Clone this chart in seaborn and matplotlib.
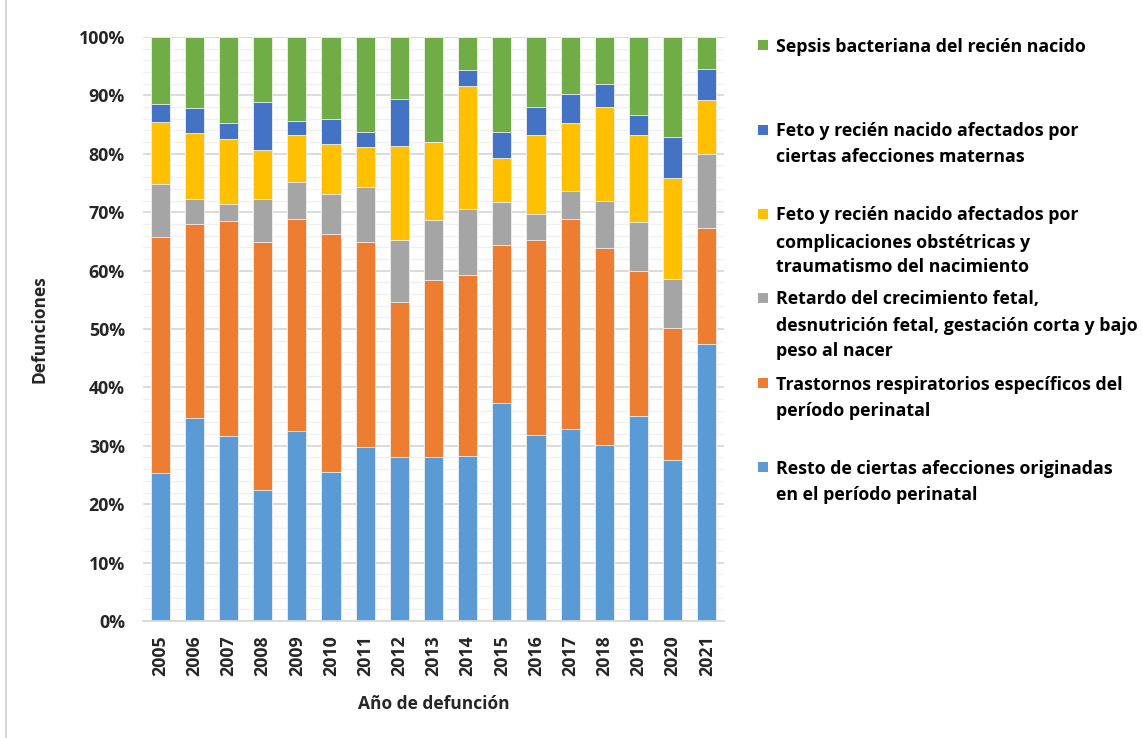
import numpy as np
import pandas as pd
import matplotlib
matplotlib.use("Agg")
import matplotlib.pyplot as plt
from matplotlib.patches import Rectangle
from matplotlib.lines import Line2D
import seaborn as sns

years = ["2005", "2006", "2007", "2008", "2009", "2010", "2011", "2012", "2013",
         "2014", "2015", "2016", "2017", "2018", "2019", "2020", "2021"]

# percentages, bottom -> top
resto = [25.3, 34.8, 31.6, 22.4, 32.5, 25.5, 29.8, 28.0, 28.1, 28.3, 37.4, 31.9, 32.9, 30.1, 35.1, 27.6, 47.4]
trastornos = [40.4, 33.1, 36.9, 42.5, 36.3, 40.7, 35.1, 26.7, 30.3, 30.9, 26.9, 33.3, 35.9, 33.8, 24.9, 22.5, 19.9]
retardo = [9.2, 4.3, 2.9, 7.3, 6.4, 7.0, 9.4, 10.6, 10.2, 11.3, 7.4, 4.5, 4.9, 8.1, 8.4, 8.5, 12.7]
complicaciones = [10.6, 11.3, 11.1, 8.4, 8.0, 8.5, 6.9, 16.0, 13.5, 21.1, 7.5, 13.6, 11.6, 16.0, 14.9, 17.3, 9.2]
maternas = [3.1, 4.3, 2.7, 8.3, 2.5, 4.2, 2.6, 8.0, 0.0, 2.8, 4.5, 4.7, 4.9, 4.0, 3.4, 6.9, 5.4]
sepsis = [11.4, 12.2, 14.8, 11.1, 14.3, 14.1, 16.2, 10.7, 17.9, 5.6, 16.3, 12.0, 9.8, 8.0, 13.3, 17.2, 5.4]

series_names = [
    "Resto de ciertas afecciones originadas\nen el período perinatal",
    "Trastornos respiratorios específicos del\nperíodo perinatal",
    "Retardo del crecimiento fetal,\ndesnutrición fetal, gestación corta y bajo\npeso al nacer",
    "Feto y recién nacido afectados por\ncomplicaciones obstétricas y\ntraumatismo del nacimiento",
    "Feto y recién nacido afectados por\nciertas afecciones maternas",
    "Sepsis bacteriana del recién nacido",
]
series_values = [resto, trastornos, retardo, complicaciones, maternas, sepsis]
colors = ["#5B9BD5", "#ED7D31", "#A5A5A5", "#FFC000", "#4472C4", "#70AD47"]

sns.set_theme(style="white")
plt.rcParams["font.family"] = ["Open Sans", "DejaVu Sans"]

vals = np.array(series_values, dtype=float)
vals = vals / vals.sum(axis=0) * 100.0
cum = np.cumsum(vals, axis=0)

fig = plt.figure(figsize=(11.43, 7.38), dpi=100)
ax = fig.add_axes([143 / 1143, (738 - 621) / 738, (724 - 143) / 1143, (621 - 37) / 738])

# gridlines
for v in np.arange(0, 101, 2):
    major = (v % 10 == 0)
    ax.axhline(v, color="#D9D9D9" if major else "#F0F0F0",
               lw=1.3 if major else 1.0, zorder=0)

# overplot cumulative bars, top series first
for i in range(len(series_values) - 1, -1, -1):
    df = pd.DataFrame({"year": years, "value": cum[i]})
    sns.barplot(data=df, x="year", y="value", color=colors[i], saturation=1,
                width=0.56, edgecolor="#F2F2F2", linewidth=0.6, ax=ax, zorder=2)

ax.set_ylim(0, 100)
ax.set_xlim(-0.5, len(years) - 0.5)
ax.set_yticks(np.arange(0, 101, 10))
ax.set_yticklabels([f"{v}%" for v in range(0, 101, 10)], fontsize=12.8, fontweight="bold")
ax.set_xticks(range(len(years)))
ax.set_xticklabels(years, rotation=90, fontsize=12.8, fontweight="bold")
ax.tick_params(axis="y", length=0, pad=13)
ax.tick_params(axis="x", length=0, pad=10)
for s in ["top", "right", "left"]:
    ax.spines[s].set_visible(False)
ax.spines["bottom"].set_color("#D9D9D9")
ax.spines["bottom"].set_linewidth(1.3)
ax.set_ylabel("Defunciones", fontsize=12.5, fontweight="bold", labelpad=22)
ax.set_xlabel("Año de defunción", fontsize=12.5, fontweight="bold", labelpad=14)

# legend (manual, Excel-like)
W, H = 1143, 738
legend_items = [
    (5, [45]),
    (4, [130, 156]),
    (3, [214, 241, 266]),
    (2, [298, 324, 350]),
    (1, [383, 409]),
    (0, [467, 493]),
]
for idx, ys in legend_items:
    lines = series_names[idx].split("\n")
    y0 = ys[0]
    fig.add_artist(Rectangle((758 / W, 1 - (y0 + 5) / H), 10 / W, 10 / H,
                             transform=fig.transFigure, facecolor=colors[idx],
                             edgecolor="none"))
    for line, yy in zip(lines, ys):
        fig.text(776 / W, 1 - (yy + 6.5) / H, line, fontsize=12.8,
                 fontweight="bold", va="baseline", ha="left", color="#000000")

# figure border
fig.add_artist(Line2D([6 / W, 6 / W], [0, 1], transform=fig.transFigure,
                      color="#D9D9D9", lw=1.5))

fig.savefig("out.png", dpi=100)
